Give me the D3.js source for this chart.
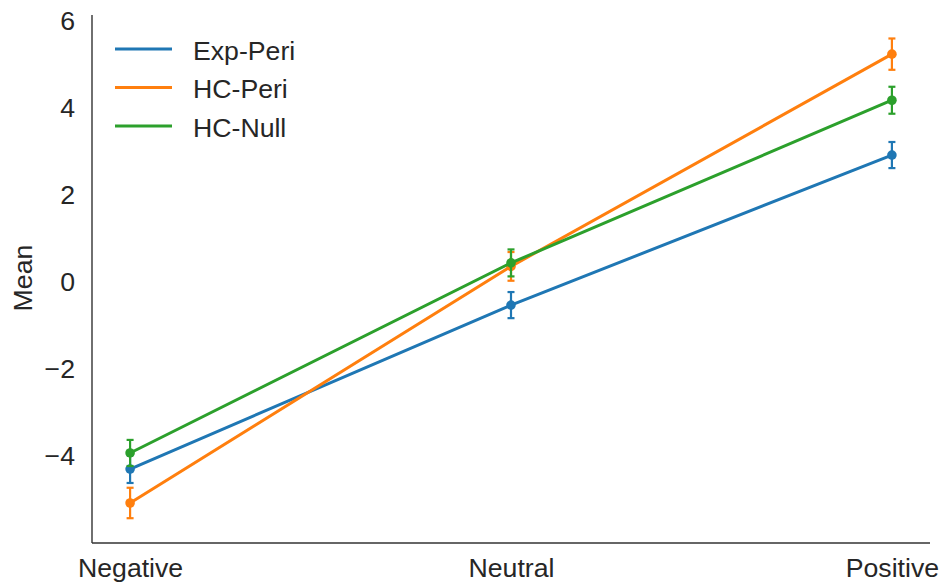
<!DOCTYPE html>
<html><head><meta charset="utf-8">
<script src="https://cdn.jsdelivr.net/npm/d3@7/dist/d3.min.js"></script>
<style>body{margin:0;background:#fff}text{font-family:"Liberation Sans",Arial,sans-serif;fill:#262626}</style>
</head><body><svg id="c" width="939" height="584"></svg>
<script>
const categories = ["Negative","Neutral","Positive"];
const seriesNames = ["Exp-Peri","HC-Peri","HC-Null"];
const colors = ["#1f77b4","#ff7f0e","#2ca02c"];
const expPeri = [-4.30, -0.53, 2.92];
const expPeriErr = [0.32, 0.30, 0.30];
const hcPeri = [-5.08, 0.36, 5.24];
const hcPeriErr = [0.35, 0.33, 0.36];
const hcNull = [-3.93, 0.44, 4.18];
const hcNullErr = [0.30, 0.31, 0.31];
const yTicks = [-4,-2,0,2,4,6];

const series = [
  {name: seriesNames[0], values: expPeri, err: expPeriErr, color: colors[0]},
  {name: seriesNames[1], values: hcPeri, err: hcPeriErr, color: colors[1]},
  {name: seriesNames[2], values: hcNull, err: hcNullErr, color: colors[2]}
];

const FS = "26.67px";
const svg = d3.select("#c");
const L = 92, R = 930, T = 15, B = 543;
const x = d3.scaleLinear().domain([-0.1, 2.1]).range([L, R]);
const y = d3.scaleLinear().domain([-6.0, 6.14]).range([B, T]);

// axes
const yAxis = svg.append("g").attr("transform", `translate(${L},0)`)
  .call(d3.axisLeft(y).tickValues(yTicks).tickSize(0).tickPadding(17).tickFormat(d => d < 0 ? "\u2212" + Math.abs(d) : d));
const xAxis = svg.append("g").attr("transform", `translate(0,${B})`)
  .call(d3.axisBottom(x).tickValues([0,1,2]).tickSize(0).tickPadding(15).tickFormat(i => categories[i]));
[yAxis, xAxis].forEach(g => {
  g.select(".domain").attr("stroke", "#333").attr("stroke-width", 1.4);
  g.selectAll("text").style("font-size", FS).attr("fill", "#262626");
});
yAxis.select(".domain").attr("d", `M0,${T}V${B}`);
xAxis.select(".domain").attr("d", `M${L},0H${R}`);
xAxis.selectAll("text").attr("dy", "0.71em");

svg.append("text").attr("transform", `translate(32,${y(0) - 4}) rotate(-90)`)
  .attr("text-anchor", "middle").style("font-size", FS).text("Mean");

const line = d3.line().x((d, i) => x(i)).y(d => y(d));
series.forEach(s => {
  const g = svg.append("g");
  s.values.forEach((v, i) => {
    const e = s.err[i];
    g.append("line").attr("x1", x(i)).attr("x2", x(i)).attr("y1", y(v - e)).attr("y2", y(v + e))
      .attr("stroke", s.color).attr("stroke-width", 2.2);
    [v - e, v + e].forEach(c => g.append("line").attr("x1", x(i) - 3.5).attr("x2", x(i) + 3.5)
      .attr("y1", y(c)).attr("y2", y(c)).attr("stroke", s.color).attr("stroke-width", 2.2));
  });
  g.append("path").datum(s.values).attr("d", line).attr("fill", "none")
    .attr("stroke", s.color).attr("stroke-width", 3);
  g.selectAll("circle").data(s.values).enter().append("circle")
    .attr("cx", (d, i) => x(i)).attr("cy", d => y(d)).attr("r", 4.8).attr("fill", s.color);
});

// legend
const lg = svg.append("g");
series.forEach((s, i) => {
  const yy = 49 + i * 38.5;
  lg.append("line").attr("x1", 115).attr("x2", 172).attr("y1", yy).attr("y2", yy)
    .attr("stroke", s.color).attr("stroke-width", 3);
  lg.append("text").attr("x", 193).attr("y", yy + 1).attr("dy", "0.36em").style("font-size", FS).text(s.name);
});
</script></body></html>
